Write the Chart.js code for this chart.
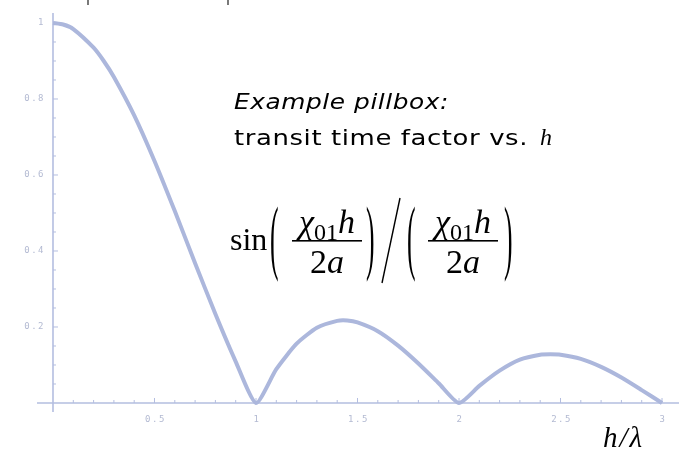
<!DOCTYPE html>
<html>
<head>
<meta charset="utf-8">
<script src="https://cdn.jsdelivr.net/npm/chart.js@4.4.1/dist/chart.umd.min.js"></script>
<style>
  html, body { margin: 0; padding: 0; background: #ffffff; }
  #wrap { width: 679px; height: 452px; }
</style>
</head>
<body>
<div id="wrap"><canvas id="ttf"></canvas></div>
<script>
// h/lambda samples and the transit time factor read at each one
var hOverLambda = [0, 0.05, 0.1, 0.2, 0.25, 0.3, 0.4, 0.5, 0.6, 0.7, 0.8, 0.9, 1.0,
    1.1, 1.2, 1.3, 1.4, 1.45, 1.5, 1.6, 1.7, 1.8, 1.9, 2.0,
    2.1, 2.2, 2.3, 2.4, 2.45, 2.5, 2.6, 2.7, 2.8, 2.9, 3.0];
var transitFactor = [1.0, 0.996, 0.984, 0.935, 0.900, 0.858, 0.757, 0.637, 0.505, 0.368, 0.234, 0.109, 0.0,
    0.089, 0.156, 0.198, 0.216, 0.217, 0.212, 0.189, 0.151, 0.104, 0.052, 0.0,
    0.045, 0.085, 0.114, 0.127, 0.128, 0.127, 0.116, 0.095, 0.067, 0.034, 0.0];

// axis ticks
var xMajorTicks = [0.5, 1, 1.5, 2, 2.5, 3];
var xTickLabels = ['0.5', '1', '1.5', '2', '2.5', '3'];
var yMajorTicks = [0.2, 0.4, 0.6, 0.8, 1];
var yTickLabels = ['0.2', '0.4', '0.6', '0.8', '1'];
var xMinorStep = 0.1;
var yMinorStep = 0.05;

var axisColor = '#b4bee0';
var labelColor = '#b3bad2';

var points = [];
for (var i = 0; i < hOverLambda.length; i++) {
    points.push({ x: hOverLambda[i], y: transitFactor[i] });
}

// spaced out small tick label, like the Mathematica style
function spacedText(ctx, txt, x, y, align) {
    ctx.save();
    ctx.font = '9px "DejaVu Sans Mono"';
    ctx.letterSpacing = '1.5px';
    ctx.fillStyle = labelColor;
    ctx.textAlign = align;
    ctx.textBaseline = 'middle';
    ctx.fillText(txt, x, y);
    ctx.restore();
}

// text squeezed or stretched sideways to a given width
function fitText(ctx, txt, x, y, width) {
    var w = ctx.measureText(txt).width;
    ctx.save();
    ctx.translate(x, y);
    ctx.scale(width / w, 1);
    ctx.fillText(txt, 0, 0);
    ctx.restore();
}

// axes through the origin with inward ticks
var axesPlugin = {
    id: 'axesPlugin',
    beforeDatasetsDraw: function(chart) {
        var ctx = chart.ctx;
        var xs = chart.scales.x, ys = chart.scales.y;
        var area = chart.chartArea;
        var x0 = xs.getPixelForValue(0), y0 = ys.getPixelForValue(0);
        ctx.save();
        ctx.strokeStyle = axisColor;
        ctx.lineWidth = 1.6;
        ctx.beginPath();
        ctx.moveTo(area.left, y0); ctx.lineTo(area.right, y0);
        ctx.moveTo(x0, area.top); ctx.lineTo(x0, area.bottom);
        ctx.stroke();

        ctx.lineWidth = 1;
        ctx.beginPath();
        var v, px, major;
        for (var k = 1; k <= 30; k++) {
            v = k * xMinorStep;
            px = xs.getPixelForValue(v);
            major = (k % 5 === 0);
            ctx.moveTo(px, y0); ctx.lineTo(px, y0 - (major ? 5 : 3));
        }
        for (var m = 1; m <= 20; m++) {
            v = m * yMinorStep;
            px = ys.getPixelForValue(v);
            major = (m % 4 === 0);
            ctx.moveTo(x0, px); ctx.lineTo(x0 + (major ? 5 : 3), px);
        }
        ctx.stroke();
        ctx.restore();

        xMajorTicks.forEach(function(t, j) {
            spacedText(ctx, xTickLabels[j], xs.getPixelForValue(t) + 1, y0 + 17, 'center');
        });
        yMajorTicks.forEach(function(t, j) {
            spacedText(ctx, yTickLabels[j], x0 - 8, ys.getPixelForValue(t), 'right');
        });
    },
    afterDraw: function(chart) {
        var ctx = chart.ctx;
        ctx.save();
        ctx.fillStyle = '#000000';
        ctx.textBaseline = 'alphabetic';
        ctx.textAlign = 'left';

        // stray marks along the top edge
        ctx.strokeStyle = '#222222';
        ctx.lineWidth = 1.2;
        ctx.beginPath();
        ctx.moveTo(88, 0); ctx.lineTo(88, 5);
        ctx.moveTo(228, 0); ctx.lineTo(228, 5);
        ctx.stroke();

        // caption
        ctx.font = 'italic 22px "DejaVu Sans"';
        ctx.letterSpacing = '0.5px';
        fitText(ctx, 'Example pillbox:', 234, 109, 215);
        ctx.font = '22px "DejaVu Sans"';
        fitText(ctx, 'transit time factor vs.', 234, 145, 294);
        ctx.letterSpacing = '0px';
        ctx.font = 'italic 24px "Liberation Serif"';
        ctx.fillText('h', 540, 145);

        // sin(χ01 h / 2a) / (χ01 h / 2a)
        ctx.font = '32px "Liberation Serif"';
        ctx.fillText('sin', 230, 250);

        function paren(ch, x) {
            ctx.save();
            ctx.translate(x, 264);
            ctx.scale(0.8, 2.55);
            ctx.font = '32px "Liberation Serif"';
            ctx.fillText(ch, 0, 0);
            ctx.restore();
        }
        function fraction(cx) {
            ctx.save();
            ctx.textAlign = 'left';
            ctx.font = 'italic 34px "Liberation Serif"';
            var wChi = ctx.measureText('\u03C7').width;
            ctx.font = '24px "Liberation Serif"';
            var w01 = ctx.measureText('01').width;
            ctx.font = 'italic 34px "Liberation Serif"';
            var wH = ctx.measureText('h').width;
            var total = wChi + w01 + wH;
            var sx = cx - total / 2;
            ctx.fillText('\u03C7', sx, 233);
            ctx.font = '24px "Liberation Serif"';
            ctx.fillText('01', sx + wChi, 240);
            ctx.font = 'italic 34px "Liberation Serif"';
            ctx.fillText('h', sx + wChi + w01, 233);

            ctx.fillRect(cx - 35, 240, 70, 1.6);

            ctx.font = '34px "Liberation Serif"';
            var w2 = ctx.measureText('2').width;
            ctx.font = 'italic 34px "Liberation Serif"';
            var wa = ctx.measureText('a').width;
            var dx = cx - (w2 + wa) / 2;
            ctx.font = '34px "Liberation Serif"';
            ctx.fillText('2', dx, 273);
            ctx.font = 'italic 34px "Liberation Serif"';
            ctx.fillText('a', dx + w2, 273);
            ctx.restore();
        }
        paren('(', 270);
        fraction(327);
        paren(')', 366);
        ctx.lineWidth = 1.4;
        ctx.strokeStyle = '#000000';
        ctx.beginPath();
        ctx.moveTo(400, 198); ctx.lineTo(382, 283);
        ctx.stroke();
        paren('(', 407);
        fraction(463);
        paren(')', 504);

        // x-axis title
        ctx.font = 'italic 29px "Liberation Serif"';
        ctx.letterSpacing = '2px';
        ctx.fillText('h/\u03BB', 603, 447);
        ctx.restore();
    }
};

var ctx = document.getElementById('ttf').getContext('2d');
new Chart(ctx, {
    type: 'line',
    data: {
        datasets: [{
            data: points,
            borderColor: '#acb7dc',
            borderWidth: 4,
            pointRadius: 0,
            tension: 0.2,
            fill: false
        }]
    },
    options: {
        responsive: true,
        maintainAspectRatio: false,
        animation: false,
        layout: { padding: { left: 37, right: 0, top: 13, bottom: 40 } },
        plugins: { legend: { display: false }, tooltip: { enabled: false } },
        scales: {
            x: { type: 'linear', display: false, min: -0.0788, max: 3.0837 },
            y: { type: 'linear', display: false, min: -0.0237, max: 1.0263 }
        }
    },
    plugins: [axesPlugin]
});
</script>
</body>
</html>
